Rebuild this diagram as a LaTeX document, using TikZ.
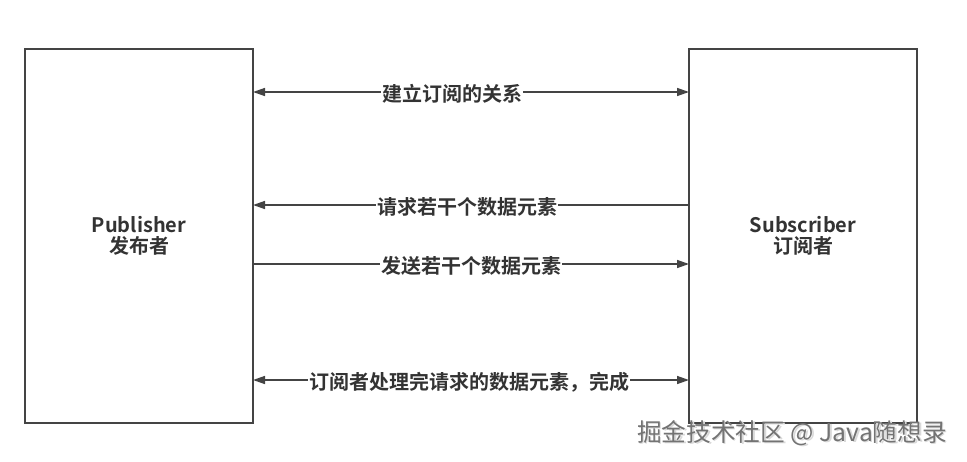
\documentclass[tikz,border=0pt]{standalone}
\usepackage{fontspec}
\setmainfont{Noto Sans CJK SC}[BoldFont={Noto Sans CJK SC Bold}]
\newfontfamily\cjkbold{Noto Sans CJK SC Bold}
\newfontfamily\cjkreg{Noto Sans CJK SC}
\usetikzlibrary{arrows.meta}
\definecolor{linec}{HTML}{444444}
\definecolor{textc}{HTML}{333333}
\tikzset{
  actor/.style={draw=linec, line width=1.3pt, minimum width=228*0.75pt, minimum height=374*0.75pt, inner sep=0pt, align=center, font=\cjkbold\fontsize{15}{18}\selectfont, text=textc},
  msg/.style={draw=linec, line width=1.1pt, -{Triangle[length=9pt,width=6pt]}},
  bimsg/.style={draw=linec, line width=1.1pt, {Triangle[length=9pt,width=6pt]}-{Triangle[length=9pt,width=6pt]}},
  lbl/.style={fill=white, inner sep=1pt, font=\cjkbold\fontsize{15}{18}\selectfont, text=textc},
  wm/.style={font=\cjkreg\fontsize{18.5}{22}\selectfont, text=black!55, anchor=west, inner sep=0pt}
}
\begin{document}
\begin{tikzpicture}[x=0.75pt,y=-0.75pt]
\useasboundingbox[fill=white] (0,0) rectangle (967,461);
\node[actor] (pub) at (139,236) {Publisher\\[-2pt]发布者};
\node[actor] (sub) at (803,236) {Subscriber\\[-2pt]订阅者};
\coordinate (p1) at (253,92);  \coordinate (s1) at (689,92);
\coordinate (p2) at (253,205); \coordinate (s2) at (689,205);
\coordinate (p3) at (253,264); \coordinate (s3) at (689,264);
\coordinate (p4) at (253,380); \coordinate (s4) at (689,380);
\draw[bimsg] (p1) -- (s1);
\draw[msg] (s2) -- (p2);
\draw[msg] (p3) -- (s3);
\draw[bimsg] (p4) -- (s4);
\node[lbl] (l1) at (452,94) {建立订阅的关系};
\node[lbl] (l2) at (467,207) {请求若干个数据元素};
\node[lbl] (l3) at (471,266) {发送若干个数据元素};
\node[lbl] (l4) at (469,382) {订阅者处理完请求的数据元素，完成};
\node[wm, text=white!85!black] (wms) at (638.5,434) {掘金技术社区 @ Java随想录};
\node[wm] (wmt) at (637,433) {掘金技术社区 @ Java随想录};
\end{tikzpicture}
\end{document}
